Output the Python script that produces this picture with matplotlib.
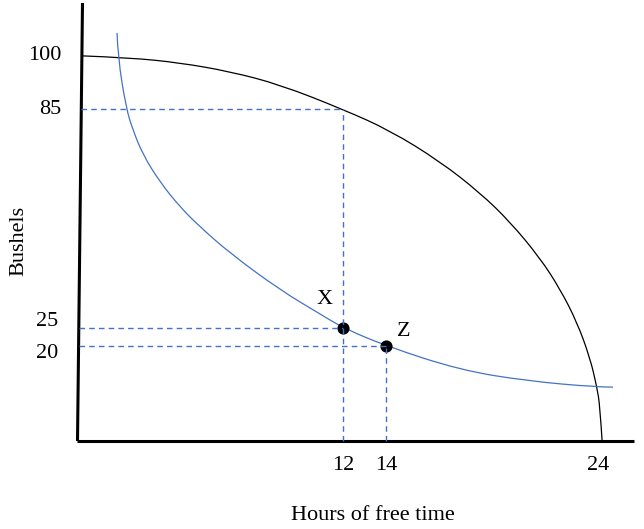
import matplotlib
matplotlib.use("Agg")
import matplotlib.pyplot as plt
from matplotlib.path import Path
from matplotlib.patches import PathPatch

plt.rcParams['font.family'] = ['Liberation Serif', 'DejaVu Serif']

# production possibilities frontier (hours of free time, bushels)
ppf_hours = [-0.1, 2.09, 4.42, 6.74, 9.07, 12.0, 14.19, 16.51, 18.37, 19.77,
             21.16, 22.09, 22.88, 23.49, 23.81, 23.95, 24.05]
ppf_bushels = [99.7, 99.2, 97.8, 95.4, 91.8, 85.0, 79.2, 70.7, 62.1, 54.1,
               44.2, 35.7, 26.6, 16.7, 8.7, 3.5, -6.0]

# indifference curve
ic_hours = [1.49, 1.53, 1.91, 2.23, 2.70, 3.49, 4.42, 5.30, 6.74, 9.07, 10.93,
            12.0, 14.0, 17.44, 20.56, 23.81, 24.56]
ic_bushels = [106.0, 99.4, 85.4, 79.3, 72.5, 65.0, 58.2, 53.0, 45.5, 35.4, 28.8,
              25.0, 20.0, 13.4, 10.4, 8.7, 8.7]

# labelled points
pt_names = ['X', 'Z']
pt_hours = [12, 14]
pt_bushels = [25, 20]

# guide lines: (value on y, reaches to x)
guide_y = [85, 25, 20]
guide_y_to_x = [12, 12, 14]
guide_x = [12, 14]
guide_x_to_y = [85, 20]

x_ticks = [12, 14, 24]
y_ticks = [100, 85, 25, 20]

W, H = 644, 529
BLUE = '#4472C4'

# pixel <-> data layout helpers
def px2x(px):
    return (px - 85) / 21.5

def py2y(py):
    return (418.8 - py) / 3.64

def smooth_curve(ax, xs, ys, **kw):
    # quadratic bezier chain: read points act as control points
    verts = [(xs[0], ys[0])]
    codes = [Path.MOVETO]
    for i in range(1, len(xs) - 1):
        verts.append((xs[i], ys[i]))
        if i < len(xs) - 2:
            verts.append(((xs[i] + xs[i + 1]) / 2, (ys[i] + ys[i + 1]) / 2))
        else:
            verts.append((xs[-1], ys[-1]))
        codes += [Path.CURVE3, Path.CURVE3]
    ax.add_patch(PathPatch(Path(verts, codes), fill=False, **kw))

fig = plt.figure(figsize=(W / 100, H / 100), dpi=100)
ax = fig.add_axes([0, 0, 1, 1])
ax.set_xlim(px2x(0), px2x(W))
ax.set_ylim(py2y(H), py2y(0))
ax.axis('off')

x_axis_y = py2y(441)
y_axis_x_bot, y_axis_x_top = px2x(77.5), px2x(82.5)
y_axis_top = py2y(3)

# axes drawn by hand (the vertical one leans slightly)
ax.plot([px2x(77), px2x(634)], [x_axis_y, x_axis_y], color='black', lw=2.2,
        solid_capstyle='butt', zorder=5)
ax.plot([y_axis_x_bot, y_axis_x_top], [x_axis_y, y_axis_top], color='black', lw=2.2,
        solid_capstyle='butt', zorder=5)

smooth_curve(ax, ppf_hours, ppf_bushels, edgecolor='black', lw=0.9, zorder=3)
smooth_curve(ax, ic_hours, ic_bushels, edgecolor=BLUE, lw=0.9, zorder=3)

def axis_x_at(y):
    t = (y - x_axis_y) / (y_axis_top - x_axis_y)
    return y_axis_x_bot + t * (y_axis_x_top - y_axis_x_bot)

for yv, xe in zip(guide_y, guide_y_to_x):
    ax.plot([axis_x_at(yv), xe], [yv, yv], color=BLUE, lw=1.0,
            dashes=(4, 3), zorder=6)
for xv, ye in zip(guide_x, guide_x_to_y):
    ax.plot([xv, xv], [x_axis_y, ye], color=BLUE, lw=1.0,
            dashes=(4, 3), zorder=6)

ax.scatter(pt_hours, pt_bushels, s=60, color='black', zorder=4)

# labels, positioned in pixels
def label(txt, px, py, **kw):
    ax.annotate(txt, (px, H - py), xycoords='figure pixels', fontsize=16, **kw)

for name, px, py in zip(pt_names, [325, 404], [300, 331]):
    label(name, px, py, ha='center', va='center')

for t, px in zip(x_ticks, [343, 386, 598]):
    label(str(t), px, 466, ha='center', va='center')

for t, px, py in zip(y_ticks, [61, 61, 58, 58], [56, 110, 322, 353]):
    label(str(t), px, py, ha='right', va='center')

label('Bushels', 19, 241, ha='center', va='center', rotation=90)
label('Hours of free time', 373, 516, ha='center', va='center')

fig.savefig('out.png', dpi=100)
